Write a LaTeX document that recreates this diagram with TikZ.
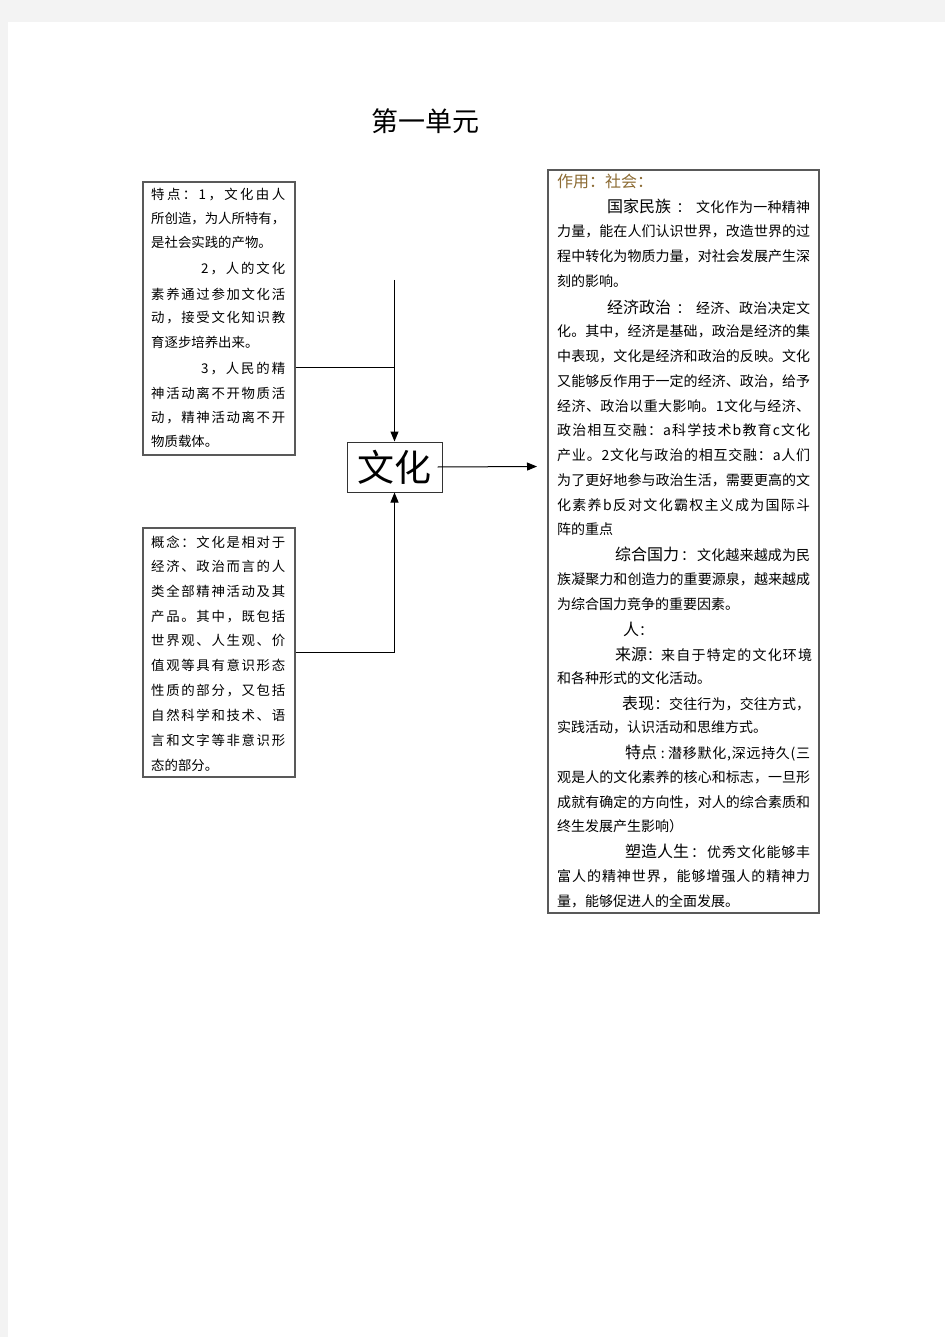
\documentclass[tikz,border=0pt]{standalone}
\usepackage{fontspec}
\newfontfamily\cjk{Noto Sans CJK SC}
\usetikzlibrary{arrows.meta}
\definecolor{pagegray}{HTML}{F3F3F3}
\definecolor{headbrown}{rgb}{0.55,0.42,0.2}
\def\spr#1#2{\hbox to #1{\sprA#2\relax}}
\def\sprA#1{#1\sprB}
\def\sprB#1{\ifx\relax#1\else\hfil#1\expandafter\sprB\fi}
\newcommand\hd[1]{{\fontsize{16}{16}\selectfont #1}}
\tikzset{
  box/.style={draw=black!65, line width=1.1pt, inner sep=0pt},
  lt/.style={anchor=base west, inner sep=0pt, font=\cjk\fontsize{13.4}{14}\selectfont},
  rt/.style={anchor=base west, inner sep=0pt, font=\cjk\fontsize{14}{14}\selectfont},
  conn/.style={line width=1pt, black},
  arr/.style={conn, -{Triangle[length=10pt,width=8pt]}}
}
\begin{document}
\begin{tikzpicture}[x=1pt,y=-1pt]
\useasboundingbox (0,0) rectangle (945,1337);
\fill[pagegray] (0,0) rectangle (945,1337);
\fill[white] (8,22) rectangle (945,1337);

% title
\node[inner sep=0pt, font=\cjk\fontsize{27}{27}\selectfont] (title) at (425,121) {第一单元};

% boxes
\node[box, minimum width=152pt, minimum height=273pt] (lt) at (219,318.5) {};
\node[box, minimum width=152pt, minimum height=249pt] (lb) at (219,652.5) {};
\node[box, minimum width=271pt, minimum height=743pt] (rb) at (683.5,541.5) {};
\node[draw=black!80, line width=1pt, minimum width=95pt, minimum height=50pt, inner sep=0pt,
      font=\cjk\fontsize{37}{37}\selectfont] (wen) at (394.5,467) {文化};

% connectors
\coordinate (top) at (394.5,280);
\coordinate (j1) at (394.5,367);
\coordinate (out) at (537,466.5);
\draw[conn] (lt.east |- j1) -- (j1);
\draw[arr] (top) -- (wen.north);
\draw[conn] (lb.east) -- (lb.east -| wen.south);
\draw[arr] (lb.east -| wen.south) -- (wen.south);
\draw[arr] ([xshift=-5pt]wen.east) -- (out);

% left top text
\node[lt] (l1) at (151,200) {\spr{134pt}{特点：1，文化由人}};
\node[lt] (l2) at (151,224) {\spr{134pt}{所创造，为人所特有，}};
\node[lt] (l3) at (151,248) {是社会实践的产物。};
\node[lt] (l4) at (201,274) {\spr{84pt}{2，人的文化}};
\node[lt] (l5) at (151,299) {\spr{134pt}{素养通过参加文化活}};
\node[lt] (l6) at (151,323) {\spr{134pt}{动，接受文化知识教}};
\node[lt] (l7) at (151,347) {育逐步培养出来。};
\node[lt] (l8) at (201,373) {\spr{84pt}{3，人民的精}};
\node[lt] (l9) at (151,398) {\spr{134pt}{神活动离不开物质活}};
\node[lt] (l10) at (151,422) {\spr{134pt}{动，精神活动离不开}};
\node[lt] (l11) at (151,446) {物质载体。};

% left bottom text
\node[lt] (m1) at (151,547) {\spr{134pt}{概念：文化是相对于}};
\node[lt] (m2) at (151,571) {\spr{134pt}{经济、政治而言的人}};
\node[lt] (m3) at (151,596) {\spr{134pt}{类全部精神活动及其}};
\node[lt] (m4) at (151,621) {\spr{134pt}{产品。其中，既包括}};
\node[lt] (m5) at (151,645) {\spr{134pt}{世界观、人生观、价}};
\node[lt] (m6) at (151,670) {\spr{134pt}{值观等具有意识形态}};
\node[lt] (m7) at (151,695) {\spr{134pt}{性质的部分，又包括}};
\node[lt] (m8) at (151,720) {\spr{134pt}{自然科学和技术、语}};
\node[lt] (m9) at (151,745) {\spr{134pt}{言和文字等非意识形}};
\node[lt] (m10) at (151,770) {态的部分。};

% right text
\node[rt, text=headbrown] (r1) at (557,188) {\hd{作用：社会：}};
\node[rt] (r2) at (607,213) {\hbox to 203pt{\hd{国家民族}\hfil：\hfil\spr{114pt}{文化作为一种精神}}};
\node[rt] (r3) at (557,237) {\spr{253pt}{力量，能在人们认识世界，改造世界的过}};
\node[rt] (r4) at (557,262) {\spr{253pt}{程中转化为物质力量，对社会发展产生深}};
\node[rt] (r5) at (557,287) {刻的影响。};
\node[rt] (r6) at (607,313) {\hbox to 203pt{\hd{经济政治}\hfil：\hfil\spr{114pt}{经济、政治决定文}}};
\node[rt] (r7) at (557,336) {\spr{253pt}{化。其中，经济是基础，政治是经济的集}};
\node[rt] (r8) at (557,361) {\spr{253pt}{中表现，文化是经济和政治的反映。文化}};
\node[rt] (r9) at (557,386) {\spr{253pt}{又能够反作用于一定的经济、政治，给予}};
\node[rt] (r10) at (557,411) {\spr{253pt}{经济、政治以重大影响。1文化与经济、}};
\node[rt] (r11) at (557,435) {\spr{253pt}{政治相互交融：a科学技术b教育c文化}};
\node[rt] (r12) at (557,460) {\spr{253pt}{产业。2文化与政治的相互交融：a人们}};
\node[rt] (r13) at (557,485) {\spr{253pt}{为了更好地参与政治生活，需要更高的文}};
\node[rt] (r14) at (557,510) {\spr{253pt}{化素养b反对文化霸权主义成为国际斗}};
\node[rt] (r15) at (557,534) {阵的重点};
\node[rt] (r16) at (615,560) {\hbox to 195pt{\hd{综合国力}\hfil：\hfil\spr{113pt}{文化越来越成为民}}};
\node[rt] (r17) at (557,584) {\spr{253pt}{族凝聚力和创造力的重要源泉，越来越成}};
\node[rt] (r18) at (557,609) {为综合国力竞争的重要因素。};
\node[rt] (r19) at (623,635) {\hd{人}：};
\node[rt] (r20) at (615,660) {\hbox to 195pt{\hd{来源}\hfil：\hfil\spr{151pt}{来自于特定的文化环境}}};
\node[rt] (r21) at (557,683) {和各种形式的文化活动。};
\node[rt] (r22) at (622,709) {\hbox to 188pt{\hd{表现}\hfil：\hfil\spr{141pt}{交往行为，交往方式，}}};
\node[rt] (r23) at (557,732) {实践活动，认识活动和思维方式。};
\node[rt] (r24) at (625,758) {\hbox to 185pt{\hd{特点}\hfil:\hfil\spr{142pt}{潜移默化,深远持久(三}}};
\node[rt] (r25) at (557,782) {\spr{253pt}{观是人的文化素养的核心和标志，一旦形}};
\node[rt] (r26) at (557,807) {\spr{253pt}{成就有确定的方向性，对人的综合素质和}};
\node[rt] (r27) at (557,831) {终生发展产生影响）};
\node[rt] (r28) at (625,857) {\hbox to 185pt{\hd{塑造人生}\hfil：\hfil\spr{103pt}{优秀文化能够丰}}};
\node[rt] (r29) at (557,881) {\spr{253pt}{富人的精神世界，能够增强人的精神力}};
\node[rt] (r30) at (557,906) {量，能够促进人的全面发展。};
\end{tikzpicture}
\end{document}
